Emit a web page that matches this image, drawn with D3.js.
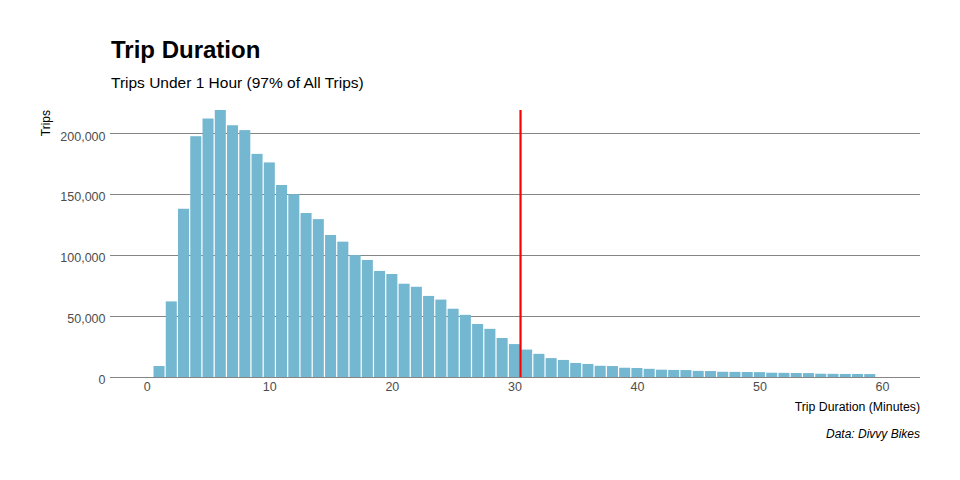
<!DOCTYPE html>
<html>
<head>
<meta charset="utf-8">
<script src="https://cdn.jsdelivr.net/npm/d3@7"></script>
<style>
  body { margin: 0; background: #fff; }
  text { font-family: "Liberation Sans", Arial, sans-serif; }
</style>
</head>
<body>
<div id="chart"></div>
<script>
// trips per whole-minute duration bucket (1..59 min)
const minutes = d3.range(1, 60);
const trips = [
  9000, 62000, 138000, 197500, 212000, 219000, 206500, 202500, 183000, 176000,
  157500, 150000, 134500, 129500, 116500, 111000, 100000, 96000, 87000, 84500,
  76500, 74000, 66500, 63500, 56000, 51000, 43500, 39500, 32000, 27000,
  22500, 19000, 15500, 14000, 11500, 10700, 9200, 9000, 7600, 7400,
  6700, 6000, 5800, 5700, 5000, 4900, 4300, 4200, 4100, 4000,
  3500, 3400, 3300, 3200, 2700, 2600, 2500, 2500, 2400
];
const xTicks = [0, 10, 20, 30, 40, 50, 60];
const yTicks = [0, 50000, 100000, 150000, 200000];
const cutoff = 30.5;

const width = 960;
const height = 480;
const margin = { top: 110, right: 40, bottom: 103, left: 110 };

const svg = d3.select('#chart')
  .append('svg')
  .attr('width', width)
  .attr('height', height);

const x = d3.scaleLinear()
  .domain([-3, 63.1])
  .range([margin.left, width - margin.right]);

const y = d3.scaleLinear()
  .domain([0, 219000])
  .range([height - margin.bottom, margin.top]);

const data = minutes.map((m, i) => ({ m, v: trips[i] }));

// grid
svg.append('g')
  .selectAll('line')
  .data(yTicks)
  .enter().append('line')
  .attr('x1', margin.left)
  .attr('x2', width - margin.right)
  .attr('y1', d => Math.round(y(d)) + 0.5)
  .attr('y2', d => Math.round(y(d)) + 0.5)
  .attr('stroke', '#858585')
  .attr('stroke-width', 1.1);

// bars
const bw = (x(1) - x(0)) * 0.9;
svg.append('g')
  .selectAll('rect')
  .data(data)
  .enter().append('rect')
  .attr('x', d => x(d.m) - bw / 2)
  .attr('width', bw)
  .attr('y', d => y(d.v))
  .attr('height', d => y(0) - y(d.v))
  .attr('fill', '#74b7d1');

// cutoff line
svg.append('line')
  .attr('x1', x(cutoff))
  .attr('x2', x(cutoff))
  .attr('y1', y.range()[1])
  .attr('y2', y.range()[0])
  .attr('stroke', '#ff0000')
  .attr('stroke-width', 2.2);

// y axis labels
svg.append('g')
  .call(d3.axisLeft(y).tickValues(yTicks).tickFormat(d3.format(',')).tickSize(0).tickPadding(0))
  .attr('transform', 'translate(105.5,0)')
  .call(g => g.select('.domain').remove())
  .selectAll('text')
  .attr('font-size', 12.5)
  .attr('fill', '#4d4d4d')
  .attr('dy', '0.55em')
  .attr('font-family', '"Liberation Sans", Arial, sans-serif');

// x axis labels
svg.append('g')
  .attr('transform', `translate(0,${y(0) + 5})`)
  .call(d3.axisBottom(x).tickValues(xTicks).tickSize(0).tickPadding(0))
  .call(g => g.select('.domain').remove())
  .selectAll('text')
  .attr('font-size', 12.5)
  .attr('fill', '#4d4d4d')
  .attr('font-family', '"Liberation Sans", Arial, sans-serif');

// titles
svg.append('text')
  .attr('x', 111)
  .attr('y', 57.5)
  .attr('font-size', 24)
  .attr('font-weight', 'bold')
  .attr('fill', '#000')
  .text('Trip Duration');

svg.append('text')
  .attr('x', 111)
  .attr('y', 88)
  .attr('font-size', 15.5)
  .attr('fill', '#000')
  .text('Trips Under 1 Hour (97% of All Trips)');

svg.append('text')
  .attr('transform', `translate(50,${margin.top}) rotate(-90)`)
  .attr('text-anchor', 'end')
  .attr('font-size', 12)
  .attr('fill', '#000')
  .text('Trips');

svg.append('text')
  .attr('x', width - margin.right)
  .attr('y', 411)
  .attr('text-anchor', 'end')
  .attr('font-size', 12.3)
  .attr('fill', '#000')
  .text('Trip Duration (Minutes)');

svg.append('text')
  .attr('x', width - margin.right)
  .attr('y', 438)
  .attr('text-anchor', 'end')
  .attr('font-size', 12)
  .attr('font-style', 'italic')
  .attr('fill', '#000')
  .text('Data: Divvy Bikes');
</script>
</body>
</html>
